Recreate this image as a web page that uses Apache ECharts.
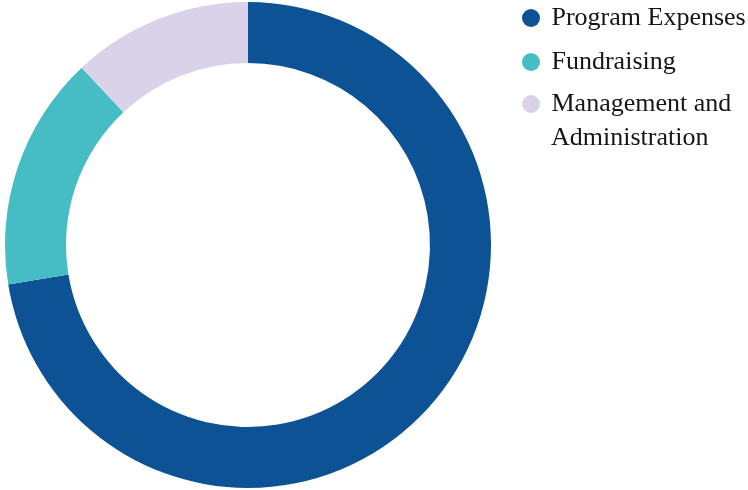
<!DOCTYPE html>
<html>
<head>
<meta charset="utf-8">
<style>
  html, body { margin: 0; padding: 0; background: #fff; }
  #chart { width: 748px; height: 490px; }
</style>
<script src="https://cdn.jsdelivr.net/npm/echarts@6/dist/echarts.min.js"></script>
</head>
<body>
<div id="chart"></div>
<script>
  // expense categories and their share (%)
  var categories = ['Program Expenses', 'Fundraising', 'Management and Administration'];
  var shares = [72.4, 15.6, 12.0];
  var colors = ['#0c5294', '#46bcc4', '#d9d2e8'];

  var chart = echarts.init(document.getElementById('chart'));

  var pieData = categories.map(function (name, i) {
    return { name: name, value: shares[i], itemStyle: { color: colors[i] } };
  });

  var serif = '"Liberation Serif", serif';
  var legendText = {
    fontFamily: serif,
    fontSize: 26,
    lineHeight: 32,
    color: '#161616'
  };

  var option = {
    animation: false,
    legend: [{
      orient: 'vertical',
      left: 522,
      top: 2,
      padding: 0,
      icon: 'circle',
      itemWidth: 18,
      itemHeight: 18,
      itemGap: 12,
      data: categories.slice(0, 2),
      // leading space widens the gap between marker and text
      formatter: function (name) { return ' ' + name; },
      textStyle: legendText,
      selectedMode: false
    }, {
      // last item wraps: first line sits next to the marker
      orient: 'vertical',
      left: 522,
      top: 88,
      padding: 0,
      icon: 'circle',
      itemWidth: 18,
      itemHeight: 18,
      data: [categories[2]],
      formatter: function () { return ' Management and'; },
      textStyle: legendText,
      selectedMode: false
    }],
    graphic: [{
      type: 'text',
      left: 551,
      top: 125,
      style: {
        text: 'Administration',
        font: '26px ' + serif,
        fill: '#161616'
      }
    }],
    series: [{
      type: 'pie',
      center: [248, 245],
      radius: [182, 243],
      startAngle: 90,
      clockwise: true,
      label: { show: false },
      labelLine: { show: false },
      emphasis: { disabled: true },
      data: pieData
    }]
  };

  chart.setOption(option);
</script>
</body>
</html>
